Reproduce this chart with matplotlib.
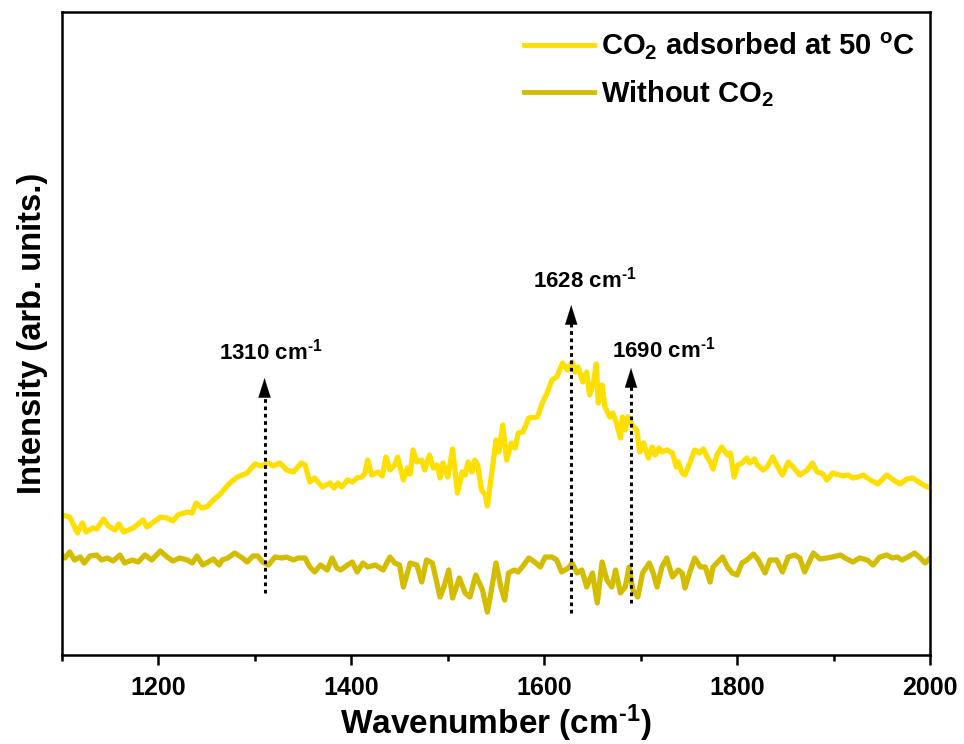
import matplotlib
matplotlib.use("Agg")
import matplotlib.pyplot as plt
from matplotlib.lines import Line2D

# ---------------- data ----------------
wn_co2 = [1100, 1108, 1116, 1121, 1125, 1132, 1136, 1143, 1148, 1155, 1159, 1164, 1174, 1184, 1188,
          1202, 1209, 1215, 1220, 1230, 1235, 1239, 1245, 1250, 1257, 1263, 1266, 1274, 1282, 1292,
          1300, 1307, 1314, 1319, 1326, 1333, 1340, 1348, 1352, 1357, 1362, 1370, 1378, 1382, 1386,
          1390, 1396, 1401, 1406, 1411, 1414, 1417, 1421, 1428, 1432, 1436, 1440, 1445, 1448, 1454,
          1458, 1461, 1464, 1468, 1473, 1476, 1481, 1485, 1489, 1492, 1495, 1500, 1505, 1510, 1515,
          1518, 1521, 1525, 1528, 1531, 1535, 1539, 1541, 1546, 1550, 1553, 1557, 1561, 1566, 1570,
          1573, 1578, 1581, 1584, 1593, 1598, 1603, 1608, 1613, 1616, 1619, 1624, 1629, 1632, 1635,
          1640, 1644, 1647, 1651, 1654, 1656, 1660, 1663, 1668, 1671, 1675, 1679, 1681, 1684, 1687,
          1691, 1696, 1699, 1703, 1708, 1712, 1715, 1719, 1722, 1727, 1733, 1737, 1739, 1743, 1746,
          1751, 1756, 1761, 1765, 1769, 1772, 1775, 1779, 1784, 1790, 1793, 1797, 1801, 1805, 1810,
          1813, 1818, 1821, 1827, 1831, 1837, 1841, 1847, 1853, 1858, 1865, 1873, 1878, 1883, 1889,
          1893, 1899, 1906, 1909, 1915, 1920, 1925, 1931, 1938, 1946, 1955, 1962, 1969, 1976, 1982,
          1990, 1997, 2000]
int_co2 = [140, 138, 122, 132, 123, 127, 126, 136, 129, 125, 131, 123, 127, 135, 128,
           138, 137, 134, 140, 143, 142, 152, 147, 148, 155, 160, 163, 172, 178, 182,
           191, 189, 192, 189, 192, 185, 183, 192, 190, 173, 177, 168, 172, 167, 172,
           168, 175, 173, 177, 178, 182, 195, 180, 183, 179, 198, 185, 190, 198, 175,
           187, 181, 205, 193, 195, 185, 200, 187, 190, 177, 192, 178, 206, 162, 183,
           180, 193, 183, 195, 190, 165, 160, 149, 185, 215, 203, 230, 195, 212, 207,
           222, 223, 230, 237, 238, 252, 262, 275, 278, 285, 292, 285, 293, 283, 288,
           273, 283, 260, 272, 291, 252, 270, 248, 238, 242, 232, 217, 238, 225, 238,
           230, 225, 203, 212, 197, 208, 200, 207, 203, 205, 202, 188, 193, 182, 180,
           192, 205, 202, 206, 198, 193, 186, 200, 208, 200, 202, 178, 190, 192, 197,
           192, 196, 190, 185, 188, 198, 190, 180, 193, 188, 180, 185, 192, 183, 181,
           175, 182, 180, 179, 180, 177, 178, 180, 175, 171, 180, 175, 171, 176, 177,
           172, 168, 168]

wn_bare = [1100, 1103, 1108, 1113, 1119, 1123, 1129, 1136, 1141, 1147, 1153, 1160, 1165, 1173, 1179,
           1186, 1193, 1202, 1209, 1215, 1222, 1230, 1235, 1240, 1246, 1257, 1263, 1266, 1272, 1279,
           1287, 1292, 1298, 1303, 1308, 1314, 1321, 1328, 1333, 1340, 1345, 1352, 1357, 1362, 1368,
           1375, 1380, 1385, 1389, 1396, 1401, 1406, 1412, 1417, 1425, 1433, 1440, 1445, 1450, 1454,
           1461, 1468, 1473, 1478, 1484, 1492, 1496, 1501, 1505, 1512, 1518, 1523, 1529, 1536, 1541,
           1544, 1550, 1555, 1559, 1563, 1569, 1573, 1578, 1584, 1590, 1596, 1601, 1608, 1613, 1618,
           1625, 1629, 1634, 1639, 1644, 1650, 1655, 1660, 1665, 1670, 1674, 1679, 1684, 1688, 1692,
           1697, 1702, 1709, 1713, 1717, 1722, 1727, 1733, 1739, 1743, 1746, 1751, 1756, 1762, 1767,
           1772, 1775, 1780, 1785, 1790, 1795, 1800, 1805, 1810, 1817, 1822, 1829, 1834, 1841, 1847,
           1853, 1860, 1865, 1870, 1879, 1886, 1893, 1899, 1907, 1912, 1920, 1927, 1935, 1941, 1948,
           1955, 1961, 1966, 1971, 1977, 1984, 1990, 1995, 2000]
int_bare = [100, 97, 103, 95, 98, 92, 99, 100, 95, 97, 94, 100, 92, 95, 93,
            100, 95, 104, 98, 94, 97, 95, 92, 99, 90, 96, 90, 95, 97, 102,
            97, 93, 99, 99, 93, 90, 98, 97, 98, 95, 97, 97, 88, 83, 90,
            85, 97, 87, 85, 90, 93, 83, 92, 88, 90, 85, 98, 92, 90, 68,
            92, 90, 73, 95, 92, 58, 68, 85, 57, 77, 62, 58, 80, 65, 43,
            58, 92, 68, 55, 82, 85, 83, 89, 97, 93, 88, 98, 98, 95, 83,
            87, 92, 82, 85, 68, 82, 52, 93, 75, 68, 85, 62, 68, 88, 65,
            58, 82, 92, 82, 68, 88, 97, 78, 85, 82, 67, 83, 97, 88, 88,
            73, 88, 93, 98, 88, 82, 80, 92, 95, 101, 95, 82, 95, 95, 83,
            98, 100, 97, 83, 102, 96, 97, 98, 100, 97, 93, 97, 95, 90, 98,
            100, 97, 98, 95, 98, 102, 97, 92, 97]

peak_pos = [1310, 1628, 1690]
peak_labels = ["1310 cm$^{\\text{-1}}$", "1628 cm$^{\\text{-1}}$", "1690 cm$^{\\text{-1}}$"]
arrow_base = [62, 42, 52]
arrow_tip = [277, 350, 287]
label_x = [1316, 1642, 1724]
label_y = [303, 375, 305]

series_labels = ["CO$_2$ adsorbed at 50 $^{\\mathrm{o}}$C", "Without CO$_2$"]
xticks = [1200, 1400, 1600, 1800, 2000]

# ---------------- style ----------------
plt.rcParams['font.family'] = ['Liberation Sans', 'DejaVu Sans']
plt.rcParams['font.weight'] = 'bold'
plt.rcParams['mathtext.fontset'] = 'custom'
plt.rcParams['mathtext.rm'] = 'Liberation Sans:bold'
plt.rcParams['mathtext.bf'] = 'Liberation Sans:bold'
plt.rcParams['mathtext.it'] = 'Liberation Sans:bold'

c_co2 = '#FFDF00'
c_bare = '#D4BD00'

fig = plt.figure(figsize=(9.64, 7.44), dpi=100)
ax = fig.add_axes([62 / 964, 89 / 744, 868 / 964, 643 / 744])

ax.plot(wn_co2, int_co2, color=c_co2, lw=3.8, solid_joinstyle='round', solid_capstyle='round')
ax.plot(wn_bare, int_bare, color=c_bare, lw=3.8, solid_joinstyle='round', solid_capstyle='round')

for x, y0, y1, lab, lx, ly in zip(peak_pos, arrow_base, arrow_tip, peak_labels, label_x, label_y):
    ax.plot([x, x], [y0, y1 - 14], color='black', lw=2.2, ls=(0, (1.2, 1.2)))
    ax.annotate('', xy=(x, y1), xytext=(x, y1 - 18),
                arrowprops=dict(arrowstyle='-|>,head_length=0.7,head_width=0.22',
                                mutation_scale=20, color='black', lw=0.1,
                                shrinkA=0, shrinkB=0))
    ax.text(lx, ly, lab, ha='center', va='center', fontsize=16, fontweight='bold')

ax.set_xlim(1100, 2000)
ax.set_ylim(0, 643)
ax.set_xticks(xticks)
ax.set_xticks([1100, 1300, 1500, 1700, 1900], minor=True)
ax.set_yticks([])
ax.tick_params(axis='x', which='major', direction='out', length=7, width=1.8, labelsize=18, pad=8)
ax.tick_params(axis='x', which='minor', direction='out', length=4, width=1.8)
for sp in ax.spines.values():
    sp.set_linewidth(1.8)

ax.set_xlabel('Wavenumber (cm$^{\\text{-1}}$)', fontsize=24, fontweight='bold', labelpad=2)
ax.set_ylabel('Intensity (arb. units.)', fontsize=23.5, fontweight='bold', labelpad=10)

handles = [Line2D([], [], color=c_co2, lw=3.5), Line2D([], [], color=c_bare, lw=3.5)]
ax.legend(handles, series_labels, loc='upper left', bbox_to_anchor=(0.532, 0.97),
          frameon=False, fontsize=21, handlelength=2.4, handletextpad=0.25,
          labelspacing=0.55, borderpad=0, borderaxespad=0)

fig.savefig('out.png', dpi=100)
